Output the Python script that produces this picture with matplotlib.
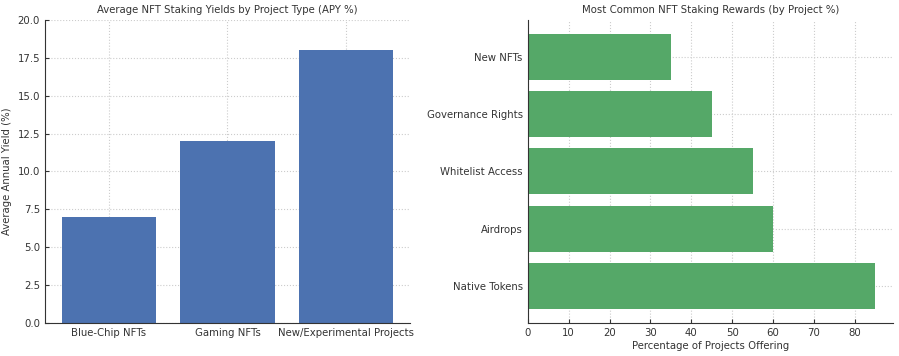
import matplotlib
matplotlib.use("Agg")
import matplotlib.pyplot as plt

project_types = ["Blue-Chip NFTs", "Gaming NFTs", "New/Experimental Projects"]
apy_values = [7, 12, 18]

reward_types = ["Native Tokens", "Airdrops", "Whitelist Access", "Governance Rights", "New NFTs"]
reward_pct = [85, 60, 55, 45, 35]

plt.rcParams.update({
    "font.family": "DejaVu Sans",
    "font.size": 7.3,
    "xtick.direction": "in",
    "ytick.direction": "in",
    "axes.edgecolor": "#333333",
    "text.color": "#333333",
    "axes.labelcolor": "#333333",
    "xtick.color": "#333333",
    "ytick.color": "#333333",
})

fig = plt.figure(figsize=(8.99, 3.56), dpi=100)
ax1 = fig.add_axes([0.050, 0.093, 0.406, 0.851])
ax2 = fig.add_axes([0.587, 0.093, 0.406, 0.851])

ax1.bar(project_types, apy_values, color="#4c72b0", width=0.8, zorder=2)
ax1.set_ylim(0, 20)
ax1.set_yticks([0, 2.5, 5, 7.5, 10, 12.5, 15, 17.5, 20])
ax1.set_yticklabels(["0.0", "2.5", "5.0", "7.5", "10.0", "12.5", "15.0", "17.5", "20.0"])
ax1.set_ylabel("Average Annual Yield (%)")
ax1.set_title("Average NFT Staking Yields by Project Type (APY %)", fontsize=7.3, pad=5)

ax2.barh(reward_types, reward_pct, color="#55a868", height=0.8, zorder=2)
ax2.set_xlabel("Percentage of Projects Offering", labelpad=2)
ax2.set_title("Most Common NFT Staking Rewards (by Project %)", fontsize=7.3, pad=5)

for ax in (ax1, ax2):
    ax.grid(True, linestyle=":", color="#cccccc", linewidth=0.8, zorder=0)
    ax.set_axisbelow(True)
    ax.spines["top"].set_visible(False)
    ax.spines["right"].set_visible(False)
    ax.tick_params(length=3)

fig.savefig("out.png", dpi=100)
